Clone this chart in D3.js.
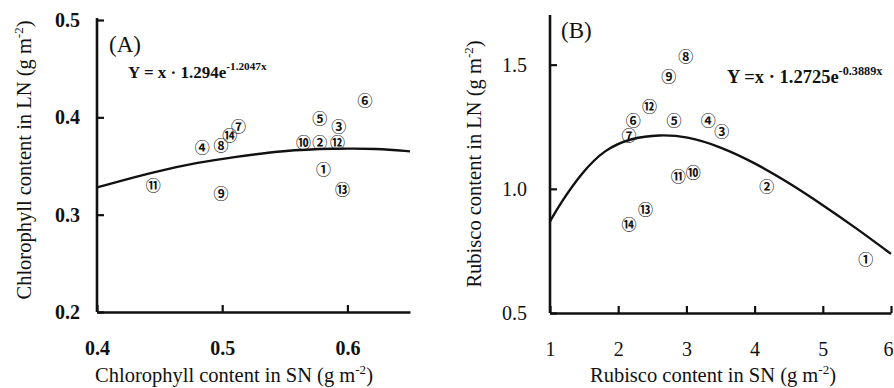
<!DOCTYPE html>
<html>
<head>
<meta charset="utf-8">
<script src="https://cdn.jsdelivr.net/npm/d3@7"></script>
<style>
  body { margin: 0; background: #fff; }
  svg { display: block; }
  text { font-family: "Liberation Serif", "Times New Roman", serif; fill: #111; }
  .mark { font-family: "Noto Sans CJK JP", "DejaVu Sans", sans-serif; }
</style>
</head>
<body>
<svg id="chart" width="894" height="388"></svg>
<script>
// circled labels for the 14 samples
const ids = ['①', '②', '③', '④', '⑤', '⑥', '⑦', '⑧', '⑨', '⑩', '⑪', '⑫', '⑬', '⑭'];

// panel A: chlorophyll, SN vs LN (g m-2)
const chlSN = [0.581, 0.578, 0.593, 0.484, 0.578, 0.614, 0.513, 0.499, 0.499, 0.565, 0.445, 0.592, 0.596, 0.506];
const chlLN = [0.347, 0.375, 0.392, 0.370, 0.400, 0.418, 0.392, 0.372, 0.323, 0.375, 0.331, 0.375, 0.327, 0.382];
const chlFitX = [0.4, 0.445, 0.482, 0.509, 0.549, 0.589, 0.624, 0.65];
const chlFitY = [0.328, 0.344, 0.354, 0.359, 0.366, 0.368, 0.368, 0.365];
const chlXTicks = [0.4, 0.5, 0.6];
const chlYTicks = [0.2, 0.3, 0.4, 0.5];

// panel B: rubisco, SN vs LN (g m-2)
const rubSN = [5.63, 4.18, 3.52, 3.32, 2.82, 2.22, 2.16, 2.99, 2.74, 3.10, 2.88, 2.46, 2.40, 2.16];
const rubLN = [0.718, 1.012, 1.234, 1.278, 1.278, 1.278, 1.218, 1.536, 1.456, 1.071, 1.052, 1.337, 0.921, 0.861];
const rubFitX = [1, 1.15, 1.45, 1.8, 2.2, 2.6, 3.0, 3.5, 4.0, 4.5, 5.0, 5.5, 6.0];
const rubFitY = [0.869, 0.94, 1.06, 1.16, 1.205, 1.218, 1.212, 1.17, 1.105, 1.025, 0.935, 0.84, 0.738];
const rubXTicks = [1, 2, 3, 4, 5, 6];
const rubYTicks = [0.5, 1.0, 1.5];

const svg = d3.select('#chart');

/**
 * draws one scatter panel with its fitted curve
 */
function drawPanel(cfg) {
  const {x, y, xs, ys, fitX, fitY, xTicks, yTicks} = cfg;
  const g = svg.append('g');

  const xAxis = d3.axisBottom(x)
    .tickValues(xTicks)
    .tickFormat(cfg.xFmt)
    .tickSizeInner(-7)
    .tickSizeOuter(0)
    .tickPadding(29);
  const ax = g.append('g')
    .attr('transform', `translate(0,${y.range()[0]})`)
    .call(xAxis);

  const yAxis = d3.axisLeft(y)
    .tickValues(yTicks)
    .tickFormat(d3.format('.1f'))
    .tickSizeInner(-7)
    .tickSizeOuter(0)
    .tickPadding(cfg.yPad);
  const ay = g.append('g')
    .attr('transform', `translate(${x.range()[0]},0)`)
    .call(yAxis);

  [ax, ay].forEach(a => {
    a.select('.domain').attr('stroke', '#111').attr('stroke-width', 2.6);
    a.selectAll('.tick line').attr('stroke', '#111').attr('stroke-width', 2.2);
    a.selectAll('.tick text')
      .attr('font-family', '"Liberation Serif", serif')
      .attr('font-size', 20)
      .attr('font-weight', cfg.tickWeight)
      .attr('fill', '#111');
  });
  // the y axis runs a little past the last tick
  ay.select('.domain').attr('d', `M0,${y.range()[0]}V${cfg.yTop}`);
  // keep the last x label inside the picture
  ax.selectAll('.tick text').attr('dx', (d, i) => (i === xTicks.length - 1 ? cfg.lastDx : 0));

  // fitted curve
  const line = d3.line()
    .x(d => x(d[0]))
    .y(d => y(d[1]))
    .curve(d3.curveBasis);
  g.append('path')
    .datum(fitX.map((v, i) => [v, fitY[i]]))
    .attr('d', line)
    .attr('fill', 'none')
    .attr('stroke', '#111')
    .attr('stroke-width', 2.4);

  // circled sample numbers
  g.selectAll('.mark')
    .data(ids.map((label, i) => ({label, sx: xs[i], sy: ys[i]})))
    .enter()
    .append('text')
    .attr('class', 'mark')
    .attr('x', d => x(d.sx))
    .attr('y', d => y(d.sy))
    .attr('text-anchor', 'middle')
    .attr('dominant-baseline', 'central')
    .attr('font-size', 15)
    .attr('font-weight', 'bold')
    .text(d => d.label);

  // panel tag
  g.append('text')
    .attr('x', cfg.tag[1])
    .attr('y', cfg.tag[2])
    .attr('font-size', 23)
    .text(cfg.tag[0]);

  // equation with superscript
  const eq = g.append('text')
    .attr('x', cfg.eq[2])
    .attr('y', cfg.eq[3])
    .attr('font-size', cfg.eqSize)
    .attr('font-weight', 'bold');
  eq.append('tspan').text(cfg.eq[0]);
  eq.append('tspan').attr('dy', -8).attr('font-size', cfg.eqSize * 0.66).text(cfg.eq[1]);

  // axis titles
  const xt = g.append('text')
    .attr('x', cfg.xTitle[1])
    .attr('y', 382)
    .attr('text-anchor', 'middle')
    .attr('font-size', 20.5);
  xt.append('tspan').text(cfg.xTitle[0]);
  xt.append('tspan').attr('dy', -8).attr('font-size', 13).text('-2');
  xt.append('tspan').attr('dy', 8).text(')');

  const yt = g.append('text')
    .attr('transform', `translate(${cfg.yTitle[1]},${cfg.yTitle[2]}) rotate(-90)`)
    .attr('text-anchor', 'middle')
    .attr('font-size', 20.5);
  yt.append('tspan').text(cfg.yTitle[0]);
  yt.append('tspan').attr('dy', -8).attr('font-size', 13).text('-2');
  yt.append('tspan').attr('dy', 8).text(')');
}

drawPanel({
  x: d3.scaleLinear().domain([0.4, 0.65]).range([97, 410]),
  y: d3.scaleLinear().domain([0.2, 0.5]).range([312, 20]),
  xs: chlSN, ys: chlLN, fitX: chlFitX, fitY: chlFitY,
  xTicks: chlXTicks, yTicks: chlYTicks,
  xFmt: d3.format('.1f'),
  yPad: 17, yTop: 18, tickWeight: 'bold', lastDx: 0,
  tag: ['(A)', 109, 52],
  eq: ['Y = x \u00b7 1.294e', '-1.2047x', 128, 78], eqSize: 17,
  xTitle: ['Chlorophyll content in SN  (g m', 234],
  yTitle: ['Chlorophyll content in LN (g m', 31, 160]
});

drawPanel({
  x: d3.scaleLinear().domain([1, 6]).range([550, 891]),
  y: d3.scaleLinear().domain([0.5, 1.7]).range([313, 15]),
  xs: rubSN, ys: rubLN, fitX: rubFitX, fitY: rubFitY,
  xTicks: rubXTicks, yTicks: rubYTicks,
  xFmt: d3.format('d'),
  yPad: 23, yTop: 15, tickWeight: 'normal', lastDx: -3,
  tag: ['(B)', 561, 38],
  eq: ['Y =x \u00b7 1.2725e', '-0.3889x', 727, 83], eqSize: 18.5,
  xTitle: ['Rubisco content in SN (g m', 713],
  yTitle: ['Rubisco content in LN  (g m', 481, 164]
});
</script>
</body>
</html>
